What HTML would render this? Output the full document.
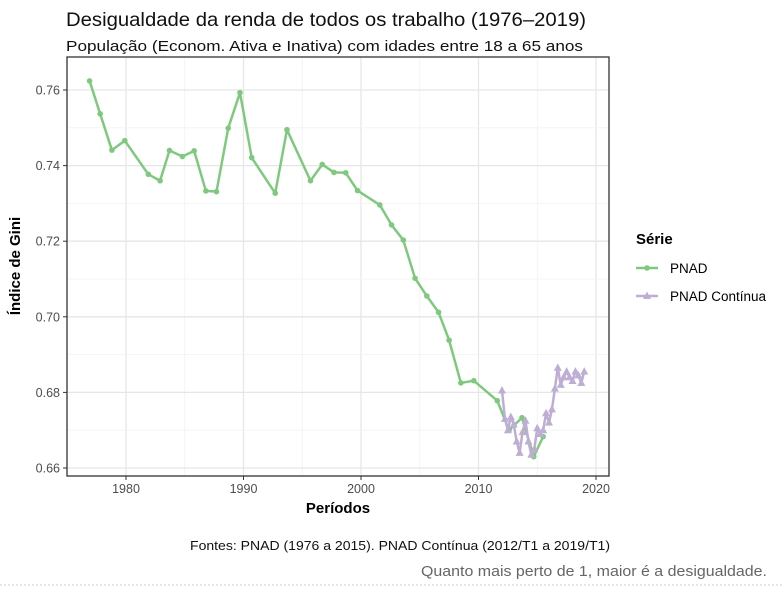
<!DOCTYPE html>
<html><head><meta charset="utf-8"><style>
body{margin:0;background:#fff;font-family:"Liberation Sans",sans-serif;}
svg text{font-family:"Liberation Sans",sans-serif;}
</style></head><body>
<svg id="chart" width="784" height="587" viewBox="0 0 784 587">
<text x="66" y="26" font-size="19.5" fill="#111" textLength="520" lengthAdjust="spacingAndGlyphs">Desigualdade da renda de todos os trabalho (1976–2019)</text>
<text x="66" y="51" font-size="15" fill="#111" textLength="517" lengthAdjust="spacingAndGlyphs">População (Econom. Ativa e Inativa) com idades entre 18 a 65 anos</text>
<g id="grid"></g>
<g id="series"></g>
<rect x="67" y="57" width="542" height="419" fill="none" stroke="#333" stroke-width="1.3"/>
<g id="axes"></g>
<text x="338" y="513" font-size="15" font-weight="bold" text-anchor="middle">Períodos</text>
<text transform="translate(20,266) rotate(-90)" font-size="15" font-weight="bold" text-anchor="middle">Índice de Gini</text>
<g>
<text x="636" y="244" font-size="15" font-weight="bold">Série</text>
<g><line x1="636" y1="268" x2="658" y2="268" stroke="#7fc97f" stroke-width="2.5"/><circle cx="647" cy="268" r="2.8" fill="#7fc97f"/><text x="670" y="273" font-size="13.5">PNAD</text></g>
<g><line x1="636" y1="296" x2="658" y2="296" stroke="#beaed4" stroke-width="2.5"/><polygon points="647,291.5 651,299 643,299" fill="#beaed4"/><text x="670" y="301" font-size="13.5">PNAD Contínua</text></g>
</g>
<text x="190" y="550" font-size="13" fill="#111" textLength="420" lengthAdjust="spacingAndGlyphs">Fontes: PNAD (1976 a 2015). PNAD Contínua (2012/T1 a 2019/T1)</text>
<text x="421" y="576" font-size="14.5" fill="#666" textLength="346" lengthAdjust="spacingAndGlyphs">Quanto mais perto de 1, maior é a desigualdade.</text>
<line x1="0" y1="585" x2="784" y2="585" stroke="#ccc" stroke-dasharray="2,2"/>
</svg>
<script>
const pnadYears=[1976.9,1977.8,1978.8,1979.9,1981.9,1982.9,1983.7,1984.8,1985.8,1986.8,1987.7,1988.7,1989.7,1990.7,1992.7,1993.7,1995.7,1996.7,1997.7,1998.7,1999.7,2001.6,2002.6,2003.6,2004.6,2005.6,2006.6,2007.5,2008.5,2009.6,2011.6,2012.6,2013.7,2014.7,2015.5];
const pnadGini=[0.7624,0.7537,0.7441,0.7466,0.7377,0.7360,0.7440,0.7424,0.7439,0.7333,0.7331,0.7499,0.7593,0.7421,0.7327,0.7495,0.7360,0.7403,0.7382,0.7381,0.7334,0.7296,0.7243,0.7203,0.7102,0.7055,0.7012,0.6938,0.6825,0.6831,0.6778,0.6700,0.6733,0.6630,0.6683];
const pnadcYears=[2012.0,2012.25,2012.5,2012.75,2013.0,2013.25,2013.5,2013.75,2014.0,2014.25,2014.5,2014.75,2015.0,2015.25,2015.5,2015.75,2016.0,2016.25,2016.5,2016.75,2017.0,2017.25,2017.5,2017.75,2018.0,2018.25,2018.5,2018.75,2019.0];
const pnadcGini=[0.6805,0.6730,0.6700,0.6735,0.6715,0.6670,0.6640,0.6695,0.6725,0.6670,0.6635,0.6650,0.6705,0.6690,0.6700,0.6745,0.6720,0.6755,0.6810,0.6865,0.6820,0.6840,0.6855,0.6840,0.6830,0.6855,0.6845,0.6825,0.6855];
const xTicks=[1980,1990,2000,2010,2020];
const yTicks=[0.66,0.68,0.70,0.72,0.74,0.76];
const NS='http://www.w3.org/2000/svg';
const L=67,R=609,T=57,B=476;
function x(v){return 126+(v-1980)*11.75;}
function y(v){return 468-(v-0.66)*3780;}
function mk(tag,attrs,parent){const e=document.createElementNS(NS,tag);for(const k in attrs)e.setAttribute(k,attrs[k]);parent.appendChild(e);return e;}
const grid=document.getElementById('grid'),axes=document.getElementById('axes'),series=document.getElementById('series');
for(let i=0;i<xTicks.length;i++){
  const xv=x(xTicks[i]);
  const g=mk('line',{x1:xv,x2:xv,y1:T,y2:B,stroke:'#e6e6e6','stroke-width':1.3},grid);
  
  
  const m=x(xTicks[i]-5);
  if(m>L){const mg=mk('line',{x1:m,x2:m,y1:T,y2:B,stroke:'#f2f2f2','stroke-width':0.8},grid);
  
  }
  mk('line',{x1:xv,x2:xv,y1:B,y2:B+4,stroke:'#333'},axes);
  const t=mk('text',{x:xv,y:B+17,'font-size':12.5,'text-anchor':'middle',fill:'#4d4d4d'},axes);
  t.textContent=xTicks[i];
  
  
}
for(let i=0;i<yTicks.length;i++){
  const yv=y(yTicks[i]);
  const g=mk('line',{x1:L,x2:R,y1:yv,y2:yv,stroke:'#e6e6e6','stroke-width':1.3},grid);
  
  
  const m=y(yTicks[i]+0.01);
  if(m>T){const mg=mk('line',{x1:L,x2:R,y1:m,y2:m,stroke:'#f2f2f2','stroke-width':0.8},grid);
  
  }
  mk('line',{x1:L-4,x2:L,y1:yv,y2:yv,stroke:'#333'},axes);
  const t=mk('text',{x:L-7,y:yv+4.5,'font-size':12.5,'text-anchor':'end',fill:'#4d4d4d'},axes);
  t.textContent=yTicks[i].toFixed(2);
  
  
}
const gp=mk('polyline',{points:pnadYears.map((v,i)=>x(v)+','+y(pnadGini[i])).join(' '),fill:'none',stroke:'#7fc97f','stroke-width':2.5,'stroke-linejoin':'round'},series);


for(let i=0;i<pnadYears.length;i++){
  const c=mk('circle',{cx:x(pnadYears[i]),cy:y(pnadGini[i]),r:2.8,fill:'#7fc97f'},series);
  
  
}
const cp=mk('polyline',{points:pnadcYears.map((v,i)=>x(v)+','+y(pnadcGini[i])).join(' '),fill:'none',stroke:'#beaed4','stroke-width':2.5,'stroke-linejoin':'round'},series);


for(let i=0;i<pnadcYears.length;i++){
  const px=x(pnadcYears[i]),py=y(pnadcGini[i]);
  const p=mk('polygon',{points:px+','+(py-4.5)+' '+(px+4)+','+(py+3)+' '+(px-4)+','+(py+3),fill:'#beaed4'},series);
  
  
}
</script>
</body></html>
